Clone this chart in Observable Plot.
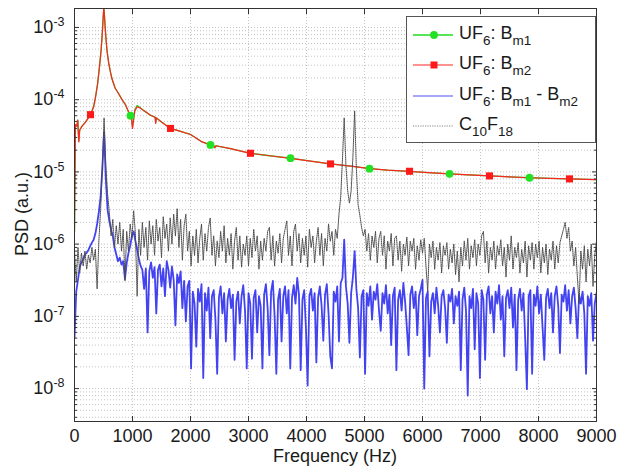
<!DOCTYPE html>
<html>
<head>
<meta charset="utf-8">
<script src="https://cdn.jsdelivr.net/npm/d3@7"></script>
<script src="https://cdn.jsdelivr.net/npm/@observablehq/plot@0.6"></script>
<style>
  html, body { margin: 0; padding: 0; background: #fff; }
  #wrap { position: relative; width: 626px; height: 470px; font-family: "Liberation Sans", Arial, sans-serif; }
  #legend { position: absolute; left: 406px; top: 16px; }
</style>
</head>
<body>
<div id="wrap"></div>
<script>
// ---------- data ----------
const xTicks = [0, 1000, 2000, 3000, 4000, 5000, 6000, 7000, 8000, 9000];
const yDecades = [1e-9, 1e-8, 1e-7, 1e-6, 1e-5, 1e-4, 1e-3];
const yMajor = [1e-8, 1e-7, 1e-6, 1e-5, 1e-4, 1e-3];

// UF6: Bm2 (red) and Bm1 (green) smooth spectra
const bmFreq = [0, 15, 40, 57, 65, 75, 90, 130, 190, 276, 330, 362, 400, 430, 460, 480, 495, 506, 520, 540,
  560, 590, 620, 650, 700, 764, 820, 879, 954, 985, 1000, 1015, 1040, 1080, 1138, 1200, 1310, 1390, 1400, 1410,
  1500, 1655, 1800, 2000, 2200, 2345, 2400, 2420, 2440, 2690, 3034, 3400, 3724, 4100, 4414, 4800, 5086, 5400,
  5776, 6100, 6466, 6800, 7155, 7500, 7845, 8200, 8534, 9000];
const bm2PSD = [1.5e-6, 4.5e-5, 4.3e-5, 5.2e-5, 3.5e-5, 2.6e-5, 3.8e-5, 4.3e-5, 4.9e-5, 6.2e-5, 8e-5, 1.08e-4, 1.7e-4, 2.8e-4, 5e-4, 8.5e-4, 1.4e-3, 1.9e-3, 1.3e-3, 7.5e-4,
  4.8e-4, 3.2e-4, 2.4e-4, 1.9e-4, 1.45e-4, 1.2e-4, 1e-4, 8.5e-5, 6.2e-5, 5.2e-5, 4e-5, 5e-5, 7e-5, 8e-5, 7.6e-5, 7e-5, 6.1e-5, 5.7e-5, 4.7e-5, 5.6e-5,
  4.9e-5, 4e-5, 3.7e-5, 3.3e-5, 2.6e-5, 2.36e-5, 2.3e-5, 2.15e-5, 2.3e-5, 2.1e-5, 1.81e-5, 1.66e-5, 1.54e-5, 1.4e-5, 1.29e-5, 1.19e-5, 1.11e-5, 1.06e-5,
  1.02e-5, 9.8e-6, 9.4e-6, 9.1e-6, 8.8e-6, 8.55e-6, 8.3e-6, 8.15e-6, 8.0e-6, 7.8e-6];
const bm1PSD = [1.5e-6, 4.5e-5, 4.3e-5, 5.2e-5, 3.6e-5, 2.7e-5, 3.8e-5, 4.3e-5, 4.9e-5, 6.2e-5, 8e-5, 1.08e-4, 1.7e-4, 2.8e-4, 5e-4, 8.5e-4, 1.4e-3, 1.9e-3, 1.3e-3, 7.5e-4,
  4.8e-4, 3.2e-4, 2.4e-4, 1.9e-4, 1.45e-4, 1.2e-4, 1e-4, 8.5e-5, 6.1e-5, 5.3e-5, 4.2e-5, 5.2e-5, 7.3e-5, 8.3e-5, 7.7e-5, 7e-5, 6.1e-5, 5.7e-5, 4.8e-5, 5.6e-5,
  4.9e-5, 4e-5, 3.7e-5, 3.3e-5, 2.6e-5, 2.36e-5, 2.3e-5, 2.2e-5, 2.3e-5, 2.1e-5, 1.81e-5, 1.66e-5, 1.55e-5, 1.4e-5, 1.29e-5, 1.19e-5, 1.11e-5, 1.06e-5,
  1.02e-5, 9.8e-6, 9.4e-6, 9.1e-6, 8.8e-6, 8.55e-6, 8.3e-6, 8.15e-6, 8.0e-6, 7.8e-6];

// marker positions
const bm1MarkFreq = [966, 2345, 3724, 5086, 6466, 7845];
const bm1MarkPSD  = [6.0e-5, 2.36e-5, 1.55e-5, 1.11e-5, 9.4e-6, 8.3e-6];
const bm2MarkFreq = [276, 1655, 3034, 4414, 5776, 7155, 8534];
const bm2MarkPSD  = [6.2e-5, 4.0e-5, 1.81e-5, 1.29e-5, 1.02e-5, 8.8e-6, 8.0e-6];

// noisy spectra, one value every 30 Hz from 0 to 9000 Hz
const noiseStep = 30;
const diffPSD = [
  5e-8, 2.2e-7, 3.2e-7, 4.8e-7, 5.6e-7, 6.2e-7, 7.2e-7, 7.6e-7, 8.3e-7, 9.4e-7,
  1.05e-6, 1.15e-6, 1.4e-6, 1.9e-6, 2.8e-6, 4.5e-6, 1.1e-5, 3.5e-5, 8e-6, 3e-6,
  2.1e-6, 1.6e-6, 1.3e-6, 9e-7, 7.2e-7, 5.8e-7, 6.5e-7, 5.2e-7, 5.8e-7, 3.3e-7,
  5.5e-7, 7.5e-7, 9.5e-7, 1.3e-6, 1.5e-6, 1.1e-6, 8.5e-7, 6.2e-7, 5e-7, 4.4e-7,
  2.4e-7, 4.6e-7, 6e-8, 4.2e-7, 5.6e-7, 3.4e-7, 4.8e-7, 1.1e-7, 4.4e-7, 5.2e-7,
  2.6e-7, 4.6e-7, 1.9e-7, 5.8e-7, 4.4e-7, 2.5e-7, 4.9e-7, 3.2e-7, 7.5e-8, 3.8e-7,
  2.9e-7, 4.2e-7, 1.3e-7, 3.1e-7, 8.5e-8, 2.6e-7, 3.1e-7, 1.9e-8, 2.2e-7, 1.5e-7,
  3.8e-8, 2.4e-7, 1.6e-7, 2.8e-7, 1.4e-8, 2.1e-7, 1.2e-7, 2.5e-7, 5e-8, 1.9e-7,
  2.3e-7, 9e-8, 1.6e-8, 1.8e-7, 2.6e-7, 1.1e-7, 2.1e-7, 4.5e-8, 1.7e-7, 2.4e-7,
  1.3e-7, 2e-7, 2.5e-8, 1.6e-7, 2.2e-7, 8e-8, 1.9e-7, 2.7e-7, 1.2e-7, 1.9e-8,
  2.1e-7, 1.5e-7, 2.6e-8, 1.8e-7, 2.3e-7, 6e-8, 1.9e-7, 1.4e-7, 1.9e-8, 2e-7,
  2.8e-7, 1.3e-7, 2.9e-8, 2.2e-7, 3.1e-7, 1e-7, 1.6e-8, 1.7e-7, 2.4e-7, 4.5e-8,
  1.9e-7, 2.6e-7, 1.1e-7, 2.3e-7, 1.9e-8, 1.8e-7, 2.7e-7, 1.5e-7, 3.4e-7, 2e-7,
  1.8e-8, 1.7e-7, 2.3e-7, 7e-8, 1.1e-8, 1.9e-7, 2.4e-7, 1.2e-7, 2.1e-7, 2.3e-8,
  1.8e-7, 2.6e-7, 1.4e-7, 4.6e-8, 2e-7, 2.8e-7, 1.1e-7, 2.8e-8, 1.9e-8, 2.2e-7,
  1.6e-7, 2.6e-7, 4.5e-8, 2.9e-7, 3.4e-7, 1.15e-6, 2.6e-7, 1.5e-7, 4.3e-8, 2.1e-7,
  3.5e-7, 8e-7, 2.4e-7, 1.3e-7, 2.7e-8, 1.9e-7, 2.3e-7, 1.6e-8, 2.1e-7, 1.4e-7,
  2.6e-7, 9e-8, 2.2e-7, 1.7e-7, 2.8e-7, 1.2e-7, 6.3e-8, 2.1e-7, 1.5e-7, 2.7e-7,
  1.1e-7, 2e-7, 4e-8, 1.9e-7, 2.5e-7, 1.8e-8, 1.7e-7, 2.3e-7, 1.2e-7, 2.9e-7,
  1.6e-7, 7e-8, 2.9e-8, 2e-7, 2.6e-7, 1.3e-7, 2.2e-7, 5.5e-8, 1.9e-7, 2.4e-7,
  3.2e-7, 1e-8, 1.8e-7, 2.2e-7, 2.8e-8, 1.6e-7, 2.1e-7, 1.1e-7, 2.5e-7, 1.4e-7,
  6e-8, 1.9e-7, 2.3e-7, 1.3e-7, 4.3e-8, 2e-7, 1.6e-7, 2.4e-7, 8e-8, 1.9e-7,
  1.4e-7, 2.2e-7, 1.8e-8, 1.7e-7, 2.5e-7, 1.2e-7, 8e-9, 1.9e-7, 1.3e-7, 2.4e-7,
  3.5e-8, 2.1e-7, 1.5e-7, 1.4e-8, 2.3e-7, 1.7e-7, 2.5e-8, 2e-7, 2.6e-7, 1.1e-7,
  1.9e-7, 6e-8, 2.2e-7, 1.5e-7, 2.7e-7, 9e-8, 1.9e-7, 2.8e-8, 1.8e-7, 2.3e-7,
  1.3e-7, 2.5e-7, 7e-8, 2e-7, 1.8e-8, 1.7e-7, 2.4e-7, 1.2e-7, 2.1e-7, 5e-8,
  9.8e-9, 1.9e-7, 2.3e-7, 1.6e-8, 2e-7, 1.4e-7, 2.6e-7, 1.1e-7, 2e-7, 7e-8,
  2.5e-8, 1.8e-7, 2.4e-7, 1.3e-7, 2.1e-7, 6e-8, 1.9e-7, 2.6e-7, 1.4e-7, 3.1e-8,
  2e-7, 1.6e-7, 2.7e-7, 1.2e-7, 2.3e-7, 8e-8, 1.9e-7, 2.5e-7, 1.3e-7, 5e-8,
  2e-7, 1.5e-7, 2.2e-7, 1.1e-7, 1.6e-8, 1.9e-7, 1.4e-7, 2.1e-7, 4.6e-8, 1.5e-7,
  2.1e-7
];
const c10f18PSD = [
  8e-7, 3e-7, 9e-7, 4e-7, 7.5e-7, 5e-7, 8e-7, 4.5e-7, 7e-7, 5.5e-7,
  9e-7, 6e-7, 8.5e-7, 2.4e-7, 1.1e-6, 3e-6, 1.2e-5, 5.6e-5, 1.2e-5, 5e-6,
  2.8e-6, 1.3e-6, 2.2e-6, 9e-7, 1.8e-6, 1e-6, 2e-6, 8e-7, 1.6e-6, 3.1e-7,
  1.5e-6, 8e-7, 1.9e-6, 1.2e-6, 2.9e-6, 1.4e-6, 1.9e-7, 1.6e-6, 7e-7, 2e-6,
  9e-7, 1.7e-6, 6e-7, 2.1e-6, 1e-6, 1.8e-6, 7e-7, 2.2e-6, 1.1e-6, 1.7e-6,
  6.5e-7, 2.4e-6, 1.2e-6, 1.9e-6, 8e-7, 2.3e-6, 1e-6, 2.6e-6, 1.3e-6, 3.1e-6,
  9e-7, 2.2e-6, 6e-7, 1.8e-6, 2.6e-6, 8e-7, 1.5e-6, 5e-7, 1.3e-6, 7e-7,
  1.6e-6, 5.5e-7, 1.2e-6, 1.9e-6, 6e-7, 1.4e-6, 8e-7, 1.7e-6, 2.3e-6, 7e-7,
  1.3e-6, 5e-7, 1.1e-6, 6.5e-7, 1.5e-6, 8e-7, 1.8e-6, 5.5e-7, 1.2e-6, 7e-7,
  1.4e-6, 4.5e-7, 1.1e-6, 1.7e-6, 6e-7, 1.3e-6, 4.8e-7, 1e-6, 7e-7, 1.3e-6,
  5e-7, 1.2e-6, 6.5e-7, 1.6e-6, 8e-7, 1.3e-6, 4.5e-7, 1.1e-6, 6e-7, 1.2e-6,
  8e-7, 1.5e-6, 1.7e-6, 6e-7, 1.3e-6, 5e-7, 1.1e-6, 7.5e-7, 1.4e-6, 5.5e-7,
  1.2e-6, 1.6e-6, 2.1e-6, 7e-7, 1.3e-6, 5e-7, 1.5e-6, 1.9e-6, 8e-7, 1.4e-6,
  5.5e-7, 1.2e-6, 7e-7, 1.3e-6, 4.8e-7, 1.6e-6, 9e-7, 1.3e-6, 5.5e-7, 1.1e-6,
  1.7e-6, 7e-7, 1.4e-6, 5e-7, 1.2e-6, 8e-7, 1.9e-6, 1.1e-6, 1.5e-6, 7e-7,
  1.6e-6, 1.2e-6, 2.6e-6, 4.5e-6, 1.5e-5, 5.6e-5, 1.2e-5, 5.5e-6, 3.7e-6, 5.5e-6,
  1.6e-5, 7e-5, 1.1e-5, 3.5e-6, 2.5e-6, 1.7e-6, 1.3e-6, 1.6e-6, 8e-7, 1.4e-6,
  6e-7, 1.3e-6, 9e-7, 1.5e-6, 5.5e-7, 1.2e-6, 1.5e-6, 7e-7, 1.3e-6, 4.5e-7,
  1.1e-6, 8e-7, 1.4e-6, 5e-7, 1.2e-6, 1.3e-6, 6e-7, 1.1e-6, 4.2e-7, 1e-6,
  7e-7, 1.25e-6, 5e-7, 1.1e-6, 8e-7, 1.2e-6, 4.5e-7, 9.5e-7, 6e-7, 1.15e-6,
  7.5e-7, 1.2e-6, 5e-7, 2.2e-7, 1e-6, 6.5e-7, 1.1e-6, 4.5e-7, 9e-7, 6e-7,
  1.05e-6, 4e-7, 9.5e-7, 7e-7, 1.05e-6, 4.5e-7, 8.5e-7, 5.5e-7, 1e-6, 3.8e-7,
  8e-7, 3e-7, 9e-7, 5e-7, 1.1e-6, 6e-7, 1.2e-6, 4.5e-7, 9.5e-7, 6.5e-7,
  1.15e-6, 5e-7, 1e-6, 7e-7, 1.3e-6, 1.5e-6, 5.5e-7, 1.1e-6, 4e-7, 9e-7,
  6e-7, 1.1e-6, 4.5e-7, 9.5e-7, 7e-7, 1.15e-6, 5e-7, 9e-7, 3.5e-7, 1e-6,
  6e-7, 1.3e-6, 4.5e-7, 9e-7, 6.5e-7, 1.05e-6, 4e-7, 8.5e-7, 5.5e-7, 1.1e-6,
  3.5e-7, 9.5e-7, 6e-7, 1.05e-6, 4.5e-7, 1e-6, 6.5e-7, 1.1e-6, 4e-7, 9e-7,
  5.5e-7, 1e-6, 3.8e-7, 8.5e-7, 6e-7, 1.1e-6, 4.5e-7, 9.5e-7, 5.5e-7, 1.05e-6,
  1.3e-6, 1.6e-6, 2e-6, 1.2e-6, 1.7e-6, 8e-7, 1.1e-6, 5e-7, 9e-7, 3.5e-7,
  1.5e-7, 8e-7, 4.5e-7, 9.5e-7, 3e-7, 8.5e-7, 5e-7, 1e-6, 2.6e-7, 7e-7,
  1.1e-6
];

// ---------- tables ----------
const bm1 = bmFreq.map((f, i) => ({f, v: bm1PSD[i]}));
const bm2 = bmFreq.map((f, i) => ({f, v: bm2PSD[i]}));
const bm1Marks = bm1MarkFreq.map((f, i) => ({f, v: bm1MarkPSD[i]}));
const bm2Marks = bm2MarkFreq.map((f, i) => ({f, v: bm2MarkPSD[i]}));
const diff = diffPSD.map((v, i) => ({f: i * noiseStep, v}));
const c10 = c10f18PSD.map((v, i) => ({f: i * noiseStep, v}));

const yDomain = [3.5e-9, 1.83e-3];
const yMinor = yDecades.flatMap(d => [2, 3, 4, 5, 6, 7, 8, 9].map(k => k * d))
  .filter(v => v > yDomain[0] && v < yDomain[1]);

const gridStyle = {stroke: "#c4c4c4", strokeOpacity: 1, strokeDasharray: "1,2", strokeWidth: 1};
const blank = () => "";

const chart = Plot.plot({
  width: 626,
  height: 470,
  marginLeft: 74,
  marginRight: 30,
  marginTop: 8,
  marginBottom: 49,
  style: {fontFamily: "'Liberation Sans', Arial, sans-serif", fontSize: "18px", color: "#1a1a1a", background: "#fff", overflow: "visible"},
  x: {domain: [0, 9000]},
  y: {type: "log", domain: yDomain},
  marks: [
    Plot.gridY(yMinor, gridStyle),
    Plot.gridY(yMajor, gridStyle),
    Plot.gridX(xTicks, gridStyle),
    Plot.line(bm1, {x: "f", y: "v", stroke: "#22dd22", strokeWidth: 1.3, clip: true}),
    Plot.line(bm2, {x: "f", y: "v", stroke: "#ff2424", strokeWidth: 1.2, clip: true}),
    Plot.line(diff, {x: "f", y: "v", stroke: "#1414ee", strokeOpacity: 0.8, strokeWidth: 1.8, clip: true}),
    Plot.line(c10, {x: "f", y: "v", stroke: "#4a4a4a", strokeWidth: 1, strokeDasharray: "1,1", clip: true}),
    Plot.dot(bm1Marks, {x: "f", y: "v", r: 3.9, fill: "#22e022", stroke: "none"}),
    Plot.dot(bm2Marks, {x: "f", y: "v", symbol: "square", r: 4, fill: "#ff1a1a", stroke: "none"}),
    Plot.frame({stroke: "#333", strokeWidth: 1}),
    Plot.axisX(xTicks, {anchor: "bottom", tickSize: -5, tickPadding: 13, label: null, tickFormat: d => String(d), fontSize: 18, stroke: "#333"}),
    Plot.axisX(xTicks, {anchor: "top", tickSize: -5, label: null, tickFormat: blank, stroke: "#333"}),
    Plot.axisY(yMajor, {anchor: "left", tickSize: -5, tickPadding: 15, label: null, tickFormat: d => "10|" + Math.round(Math.log10(d)), fontSize: 18, stroke: "#333"}),
    Plot.axisY(yMajor, {anchor: "right", tickSize: -5, label: null, tickFormat: blank, stroke: "#333"}),
    Plot.axisY(yMinor, {anchor: "left", tickSize: -3, label: null, tickFormat: blank, stroke: "#333"}),
    Plot.axisY(yMinor, {anchor: "right", tickSize: -3, label: null, tickFormat: blank, stroke: "#333"})
  ]
});

// superscript exponents on the y tick labels
const NS = "http://www.w3.org/2000/svg";
chart.querySelectorAll('[aria-label="y-axis tick label"] text').forEach(t => {
  const s = t.textContent;
  if (!s.includes("|")) return;
  const [base, exp] = s.split("|");
  t.textContent = base;
  const sup = document.createElementNS(NS, "tspan");
  sup.setAttribute("dy", "-7");
  sup.setAttribute("font-size", "12.5");
  sup.textContent = exp;
  t.appendChild(sup);
});

// axis titles
const sel = d3.select(chart);
sel.append("text")
  .attr("x", 335).attr("y", 462)
  .attr("text-anchor", "middle")
  .attr("font-size", 18).attr("fill", "#1a1a1a")
  .text("Frequency (Hz)");
sel.append("text")
  .attr("transform", "translate(28,214) rotate(-90)")
  .attr("text-anchor", "middle")
  .attr("font-size", 18).attr("fill", "#1a1a1a")
  .text("PSD (a.u.)");

const wrap = document.getElementById("wrap");
wrap.appendChild(chart);

// ---------- legend ----------
const legendRows = [
  {parts: [["UF", 0], ["6", 1], [": B", 0], ["m1", 1]], kind: "bm1"},
  {parts: [["UF", 0], ["6", 1], [": B", 0], ["m2", 1]], kind: "bm2"},
  {parts: [["UF", 0], ["6", 1], [": B", 0], ["m1", 1], [" - B", 0], ["m2", 1]], kind: "diff"},
  {parts: [["C", 0], ["10", 1], ["F", 0], ["18", 1]], kind: "c10"}
];
const rowY = [19, 49, 80, 110];
const lg = d3.create("svg").attr("id", "legend").attr("width", 191).attr("height", 128)
  .style("font-family", "'Liberation Sans', Arial, sans-serif");
lg.append("rect").attr("x", 0.5).attr("y", 0.5).attr("width", 189).attr("height", 126)
  .attr("fill", "#fff").attr("stroke", "#555").attr("stroke-width", 1);
legendRows.forEach((row, i) => {
  const y = rowY[i];
  const line = lg.append("line").attr("x1", 7).attr("x2", 47).attr("y1", y).attr("y2", y);
  if (row.kind === "bm1") {
    line.attr("stroke", "#22dd22").attr("stroke-width", 1.3);
    lg.append("circle").attr("cx", 28).attr("cy", y).attr("r", 3.9).attr("fill", "#22e022");
  } else if (row.kind === "bm2") {
    line.attr("stroke", "#ff2424").attr("stroke-width", 1.2);
    lg.append("rect").attr("x", 24.5).attr("y", y - 3.5).attr("width", 7).attr("height", 7).attr("fill", "#ff1a1a");
  } else if (row.kind === "diff") {
    line.attr("stroke", "#2222f2").attr("stroke-opacity", 0.4).attr("stroke-width", 2);
  } else {
    line.attr("stroke", "#777").attr("stroke-width", 0.9).attr("stroke-dasharray", "1.2,1.2");
  }
  const t = lg.append("text").attr("x", 53).attr("y", y + 4).attr("font-size", 18).attr("fill", "#1a1a1a");
  let shifted = 0;
  row.parts.forEach(([str, sub]) => {
    const ts = t.append("tspan").text(str);
    if (sub && !shifted) { ts.attr("dy", 6).attr("font-size", 13.5); shifted = 1; }
    else if (sub) { ts.attr("font-size", 13.5); }
    else if (shifted) { ts.attr("dy", -6); shifted = 0; }
  });
});
wrap.appendChild(lg.node());
</script>
</body>
</html>
